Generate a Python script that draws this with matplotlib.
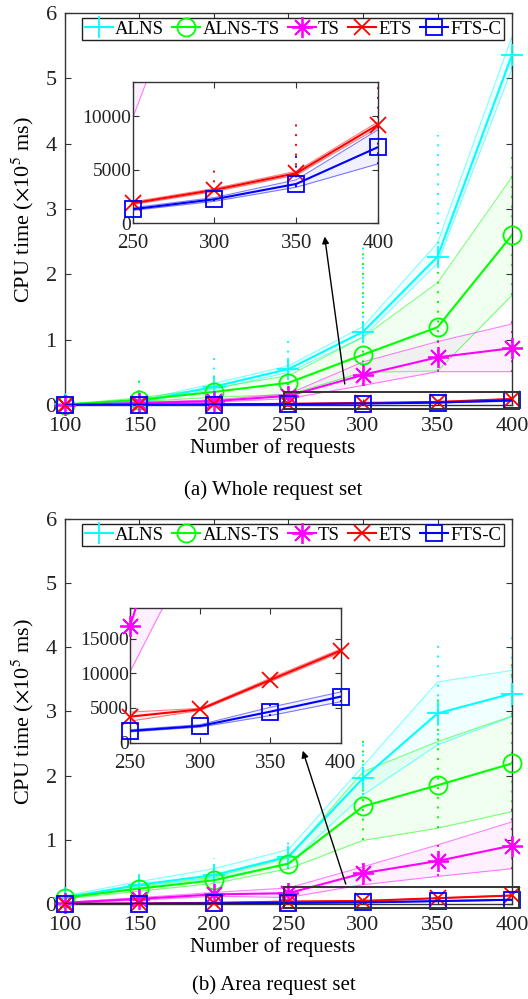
import numpy as np
import matplotlib.pyplot as plt
from matplotlib.patches import Rectangle

plt.rcParams['font.family'] = ['Liberation Serif', 'DejaVu Serif']
plt.rcParams['mathtext.fontset'] = 'stix'

## Shared categories
n_req = [100, 150, 200, 250, 300, 350, 400]
methods = ['ALNS', 'ALNS-TS', 'TS', 'ETS', 'FTS-C']
colors = ['#00FFFF', '#00FF00', '#FF00FF', '#FF0000', '#0000FF']
markers = ['+', 'o', (8, 2, 0), 'x', 's']
msizes = [16, 13, 15, 11, 12]

## (a) Whole request set, CPU time in ms
a_alns = [1000, 5000, 28000, 55000, 112000, 227000, 536000]
a_alns_lo = [800, 4000, 24000, 50000, 104000, 217000, 515000]
a_alns_hi = [1300, 7000, 33000, 60000, 120000, 248000, 564000]
a_alnsts = [500, 8000, 20000, 34000, 77000, 119000, 260000]
a_alnsts_lo = [300, 5000, 12000, 16000, 50000, 52000, 168000]
a_alnsts_hi = [800, 11000, 26000, 45000, 104000, 187000, 349000]
a_ts = [200, 3000, 6000, 14000, 46000, 73000, 87000]
a_ts_lo = [100, 2000, 4500, 9800, 30000, 51000, 51000]
a_ts_hi = [300, 4000, 8000, 17000, 66000, 97000, 124000]
a_ets = [150, 400, 900, 1870, 3110, 4670, 9190]
a_ets_lo = [120, 350, 800, 1750, 2950, 4500, 8900]
a_ets_hi = [180, 450, 1000, 2000, 3250, 4850, 9450]
a_fts = [100, 300, 700, 1310, 2240, 3670, 7100]
a_fts_lo = [80, 250, 600, 1200, 2050, 3360, 5540]
a_fts_hi = [120, 350, 800, 1450, 2400, 4050, 8720]
# largest single run
a_alns_top = [2000, 47000, 72000, 102000, 250000, 413000, 560000]
a_alnsts_top = [1500, 36000, 55000, 75000, 240000, 240000, 390000]
a_ts_top = [500, 10000, 20000, 30000, 80000, 110000, 130000]
a_ets_top = [200, 500, 1100, 5000, 5000, 9650, 13200]
a_fts_top = [150, 400, 900, 1600, 2700, 6570, 8000]

## (b) Area request set, CPU time in ms
b_alns = [10000, 30000, 45000, 74000, 196000, 297000, 328000]
b_alns_lo = [8000, 26000, 40000, 62000, 170000, 248000, 292000]
b_alns_hi = [13000, 35000, 55000, 85000, 215000, 346000, 364000]
b_alnsts = [10000, 24000, 37000, 63000, 152000, 185000, 219000]
b_alnsts_lo = [8000, 20000, 32000, 55000, 99000, 118000, 144000]
b_alnsts_hi = [12000, 28000, 42000, 72000, 206000, 253000, 293000]
b_ts = [2000, 8000, 15000, 16800, 48000, 67000, 91000]
b_ts_lo = [1500, 6000, 12000, 10200, 30000, 43000, 55000]
b_ts_hi = [2500, 10000, 18000, 25000, 58000, 92000, 128000]
b_ets = [300, 800, 1800, 3750, 4800, 9040, 13260]
b_ets_lo = [250, 700, 1600, 3100, 4650, 8800, 13000]
b_ets_hi = [350, 900, 2000, 4400, 4950, 9300, 13500]
b_fts = [200, 500, 1000, 1690, 2410, 4470, 6630]
b_fts_lo = [150, 420, 900, 1550, 2250, 3900, 5900]
b_fts_hi = [250, 580, 1100, 1850, 2600, 5100, 7300]
b_alns_top = [15000, 48000, 72000, 100000, 250000, 410000, 420000]
b_alnsts_top = [14000, 40000, 60000, 90000, 260000, 320000, 380000]
b_ts_top = [3000, 12000, 22000, 33000, 75000, 100000, 150000]
b_ets_top = [400, 1000, 2200, 4600, 5100, 9500, 13800]
b_fts_top = [300, 700, 1300, 2100, 2800, 6000, 7600]

panel_a = [(a_alns, a_alns_lo, a_alns_hi, a_alns_top),
           (a_alnsts, a_alnsts_lo, a_alnsts_hi, a_alnsts_top),
           (a_ts, a_ts_lo, a_ts_hi, a_ts_top),
           (a_ets, a_ets_lo, a_ets_hi, a_ets_top),
           (a_fts, a_fts_lo, a_fts_hi, a_fts_top)]
panel_b = [(b_alns, b_alns_lo, b_alns_hi, b_alns_top),
           (b_alnsts, b_alnsts_lo, b_alnsts_hi, b_alnsts_top),
           (b_ts, b_ts_lo, b_ts_hi, b_ts_top),
           (b_ets, b_ets_lo, b_ets_hi, b_ets_top),
           (b_fts, b_fts_lo, b_fts_hi, b_fts_top)]

SPINE = '#333333'


def style_axes(ax, fs, xpad, ypad):
    for s in ax.spines.values():
        s.set_color(SPINE)
        s.set_linewidth(1.0)
    ax.tick_params(direction='in', top=True, right=True, length=4,
                   color=SPINE, labelsize=fs, labelcolor='#222222')
    ax.tick_params(axis='x', pad=xpad)
    ax.tick_params(axis='y', pad=ypad)


def draw_series(ax, data, scale, xmin, ymax, lw=1.5):
    x = np.array(n_req)
    lines = []
    for (mean, lo, hi, top), c, m, ms, name in zip(data, colors, markers, msizes, methods):
        mean = np.array(mean) / scale
        lo = np.array(lo) / scale
        hi = np.array(hi) / scale
        top = np.array(top) / scale
        ax.vlines(x, lo, top, colors=c, linestyles=(0, (1, 4)), lw=1.4, zorder=1)
        ax.fill_between(x, lo, hi, color=c, alpha=0.06, lw=0, zorder=1)
        ax.plot(x, lo, color=c, lw=0.8, alpha=0.5, zorder=2)
        ax.plot(x, hi, color=c, lw=0.8, alpha=0.5, zorder=2)
        ax.plot(x, mean, color=c, lw=lw, zorder=3)
        keep = (x >= xmin) & (mean <= ymax)
        ax.plot(x[keep], mean[keep], ls='none', marker=m, ms=ms, color=c,
                mfc='none', mew=1.3, zorder=3, clip_on=False)
        # legend proxy: line plus marker
        ln, = ax.plot([], [], color=c, lw=lw, marker=m, ms=ms, mfc='none',
                      mew=1.3, label=name)
        lines.append(ln)
    return lines


def make_panel(fig, rect, inset_rect, data, inset_ylim, inset_yticks,
               box_top, arrow_head, arrow_tail, caption, cap_y):
    ax = fig.add_axes(rect)
    lines = draw_series(ax, data, 1e5, 100, 6)
    ax.set_xlim(100, 400)
    ax.set_ylim(0, 6)
    ax.set_xticks(n_req)
    ax.set_yticks(range(0, 7))
    style_axes(ax, 16, 9, 6)
    ax.set_xlabel('Number of requests', fontsize=15, labelpad=1)
    ax.xaxis.set_label_coords(0.465, -0.085)
    ax.set_ylabel(r'CPU time ($\times$10$^5$ ms)', fontsize=16, labelpad=7)
    ax.legend(handles=lines, loc='upper center', bbox_to_anchor=(0.51, 0.988),
              ncol=5, fontsize=13.5, frameon=True, fancybox=False,
              edgecolor='#222222', framealpha=1, borderpad=0.15,
              handlelength=1.5, handletextpad=0.1, columnspacing=0.45,
              borderaxespad=0)

    # zoom box and arrow
    rect_patch = Rectangle((247, -0.06), 158, box_top + 0.06, fill=False,
                           edgecolor='#333333', lw=1.4, clip_on=False, zorder=4)
    ax.add_patch(rect_patch)
    ax.annotate('', xy=arrow_head, xytext=arrow_tail,
                arrowprops=dict(arrowstyle='-|>', color='k', lw=1.0,
                                mutation_scale=10), zorder=5)

    ins = fig.add_axes(inset_rect)
    draw_series(ins, data, 1.0, 250, inset_ylim[1])
    ins.set_xlim(250, 400)
    ins.set_ylim(*inset_ylim)
    ins.set_xticks([250, 300, 350, 400])
    ins.set_yticks(inset_yticks)
    style_axes(ins, 14, 8, 1)
    ins.tick_params(axis='x', labelsize=15)

    fig.text(0.518, cap_y, caption, ha='center', va='center', fontsize=15)
    return ax


fig = plt.figure(figsize=(5.28, 9.99), dpi=100)

make_panel(fig, [0.1231, 0.5946, 0.8466, 0.3924],
           [0.2513, 0.7765, 0.4646, 0.1417], panel_a,
           (0, 13200), [0, 5000, 10000], 0.2,
           (274, 2.62), (288, 0.28), '(a) Whole request set', 0.509)

make_panel(fig, [0.1231, 0.0951, 0.8466, 0.3854],
           [0.2462, 0.2566, 0.3990, 0.1348], panel_b,
           (0, 19400), [0, 5000, 10000, 15000], 0.27,
           (259, 2.43), (289, 0.27), '(b) Area request set', 0.014)

fig.savefig('out.png', dpi=100)
